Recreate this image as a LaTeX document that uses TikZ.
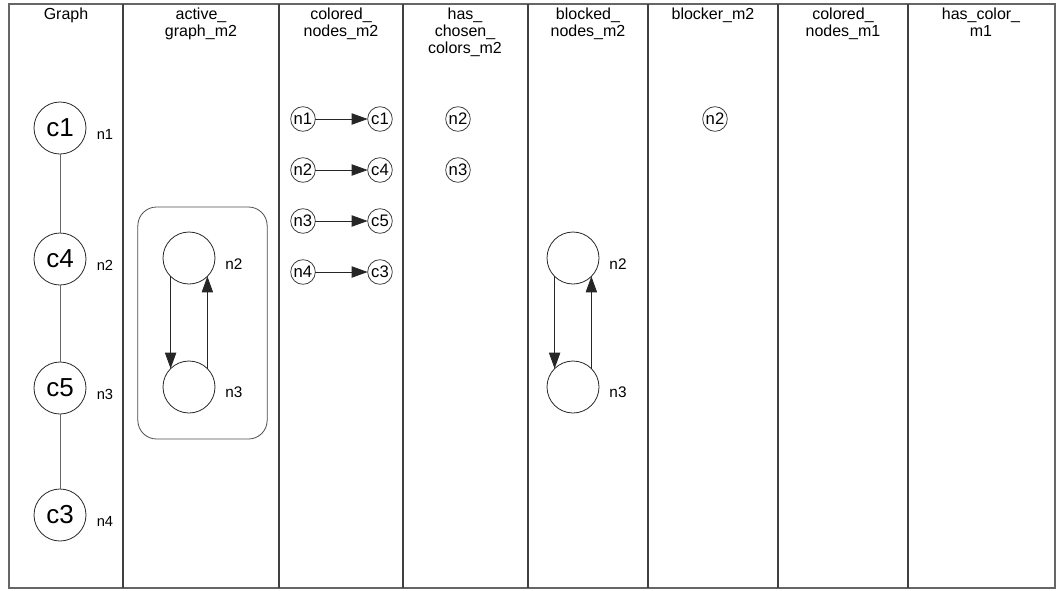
\documentclass[tikz,border=0pt]{standalone}
\usepackage{fontspec}
\setmainfont{Liberation Sans}
\usetikzlibrary{arrows.meta, positioning}
\tikzset{
    header/.style={anchor=north, align=center, font=\fontsize{12}{12.5}\selectfont, inner sep=0pt},
    colorcirc/.style={circle, draw=black!85, line width=0.6pt, minimum size=39pt, inner sep=0pt, outer sep=0pt, font=\fontsize{19.5}{21}\selectfont},
    emptycirc/.style={circle, draw=black!85, line width=0.6pt, minimum size=39pt, inner sep=0pt, outer sep=0pt},
    smallcirc/.style={circle, draw=black!75, line width=0.6pt, minimum size=18.5pt, inner sep=0pt, outer sep=0pt, font=\fontsize{12.5}{13}\selectfont},
    nlabel/.style={font=\fontsize{11}{12}\selectfont, inner sep=0pt},
    arrow/.style={-{Triangle[length=12pt, width=8.5pt]}, black!85, line width=0.6pt},
    edge/.style={draw=black!60, line width=0.6pt},
    divider/.style={draw=black!75, line width=1.1pt},
}

\begin{document}
\begin{tikzpicture}[x=0.75pt, y=-0.75pt]
        \useasboundingbox (0,0) rectangle (1058,590);

        % Frame and columns
        \draw[draw=black!60, line width=1.1pt] (9,4) rectangle (1055,588);
        \foreach \x in {123, 279, 403, 528, 648, 778, 908}
            \draw[divider] (\x,4) -- (\x,588);

        % Headers
        \node[header] (hgraph) at (66,8) {Graph};
        \node[header] (hactive) at (201,8) {active\_\\graph\_m2};
        \node[header] (hcolored) at (341,8) {colored\_\\nodes\_m2};
        \node[header] (hchosen) at (465,8) {has\_\\chosen\_\\colors\_m2};
        \node[header] (hblocked) at (588,8) {blocked\_\\nodes\_m2};
        \node[header] (hblocker) at (713,8) {blocker\_m2};
        \node[header] (hcoloredone) at (843,8) {colored\_\\nodes\_m1};
        \node[header] (hhascolor) at (981,8) {has\_color\_\\m1};

        % Graph
        \node[colorcirc] (c1) at (60,128) {c1};
        \node[colorcirc] (c4) at (60,259) {c4};
        \node[colorcirc] (c5) at (60,388) {c5};
        \node[colorcirc] (c3) at (60,515) {c3};
        \node[nlabel] (ln1) at (105,134) {n1};
        \node[nlabel] (ln2) at (105,265) {n2};
        \node[nlabel] (ln3) at (105,394) {n3};
        \node[nlabel] (ln4) at (105,521) {n4};
        \draw[edge] (c1) -- (c4);
        \draw[edge] (c4) -- (c5);
        \draw[edge] (c5) -- (c3);

        % active_graph_m2
        \node[draw=black!70, line width=0.6pt, rounded corners=14pt, minimum width=97pt, minimum height=174pt] (abox) at (202.5,323) {};
        \node[emptycirc] (an2) at (189,258) {};
        \node[emptycirc] (an3) at (189,387) {};
        \node[nlabel, font=\fontsize{11.5}{12}\selectfont] (lan2) at (234,264) {n2};
        \node[nlabel, font=\fontsize{11.5}{12}\selectfont] (lan3) at (234,392) {n3};
        \draw[arrow] (an2.-135) -- (an3.135);
        \draw[arrow] (an3.45) -- (an2.-45);

        % colored_nodes_m2
        \foreach \n/\c/\y in {1/1/119, 2/4/170, 3/5/221, 4/3/272} {
            \node[smallcirc] (cn\n) at (303,\y) {n\n};
            \node[smallcirc] (cc\n) at (380,\y) {c\c};
            \draw[arrow] (cn\n) -- (cc\n);
        }

        % has_chosen_colors_m2
        \node[smallcirc] (hn2) at (458,119) {n2};
        \node[smallcirc] (hn3) at (458,170) {n3};

        % blocked_nodes_m2
        \node[emptycirc] (bn2) at (573,258) {};
        \node[emptycirc] (bn3) at (573,387) {};
        \node[nlabel, font=\fontsize{11.5}{12}\selectfont] (lbn2) at (618,264) {n2};
        \node[nlabel, font=\fontsize{11.5}{12}\selectfont] (lbn3) at (618,392) {n3};
        \draw[arrow] (bn2.-135) -- (bn3.135);
        \draw[arrow] (bn3.45) -- (bn2.-45);

        % blocker_m2
        \node[smallcirc] (kn2) at (715,119) {n2};
\end{tikzpicture}
\end{document}
